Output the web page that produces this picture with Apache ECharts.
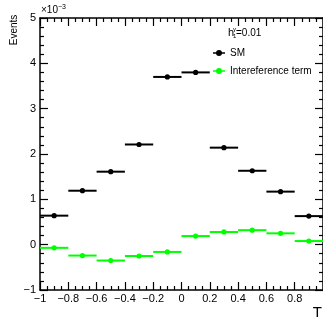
<!DOCTYPE html>
<html>
<head>
<meta charset="utf-8">
<script src="https://cdn.jsdelivr.net/npm/echarts@6/dist/echarts.min.js"></script>
<style>
  html, body { margin: 0; padding: 0; background: #fff; }
  #chart { width: 323px; height: 326px; }
</style>
</head>
<body>
<div id="chart"></div>
<script>
// bin centres on T, each bin is 0.2 wide
var binCenters = [-0.9, -0.7, -0.5, -0.3, -0.1, 0.1, 0.3, 0.5, 0.7, 0.9];
var binHalfWidth = 0.1;
// events per bin
var smValues = [0.00064, 0.00119, 0.00161, 0.00221, 0.00370, 0.00380, 0.00214, 0.00163, 0.00117, 0.00063];
var interfValues = [-0.00007, -0.00024, -0.00035, -0.00025, -0.00016, 0.00019, 0.00028, 0.00032, 0.00025, 0.00008];
var seriesNames = ['SM', 'Intereference term'];
var seriesColors = ['#000000', '#00ff00'];

var font = 'Liberation Sans, Arial, sans-serif';

function toPairs(vals) {
    return binCenters.map(function (x, i) { return [x, vals[i]]; });
}

function makeRender(color) {
    return function (params, api) {
        var x = api.value(0), y = api.value(1);
        var a = api.coord([x - binHalfWidth, y]);
        var b = api.coord([x + binHalfWidth, y]);
        var c = api.coord([x, y]);
        return {
            type: 'group',
            children: [
                { type: 'line', shape: { x1: a[0], y1: a[1], x2: b[0], y2: b[1] }, style: { stroke: color, lineWidth: 2 } },
                { type: 'circle', shape: { cx: c[0], cy: c[1], r: 2.6 }, style: { fill: color } }
            ]
        };
    };
}

function minus(v) {
    return String(v).replace('-', '\u2212');
}

var legendIcon = 'path://M0,4.5 L24,4.5 L24,7.5 L0,7.5 Z M18,6 A6,6 0 1,1 6,6 A6,6 0 1,1 18,6 Z';

var chart = echarts.init(document.getElementById('chart'));

var tickInside = {
    axisLine: { show: true, onZero: false, lineStyle: { color: '#000', width: 1.5 } },
    axisTick: { show: true, inside: true, length: 8, lineStyle: { color: '#000', width: 1.2 } },
    splitLine: { show: false }
};

var option = {
    animation: false,
    grid: { left: 40, top: 18, right: 0, bottom: 36 },
    xAxis: [
        Object.assign({
            type: 'value', min: -1, max: 1, interval: 0.2, position: 'bottom',
            minorTick: { show: true, splitNumber: 4, length: 4, lineStyle: { color: '#000', width: 1.2 } },
            axisLabel: {
                color: '#000', fontSize: 11, fontFamily: font, margin: 3,
                showMaxLabel: false,
                formatter: function (v) { return minus(Math.round(v * 10) / 10); }
            }
        }, tickInside),
        Object.assign({
            type: 'value', min: -1, max: 1, interval: 0.2, position: 'top',
            minorTick: { show: true, splitNumber: 4, length: 4, lineStyle: { color: '#000', width: 1.2 } },
            axisLabel: { show: false }
        }, tickInside)
    ],
    yAxis: [
        Object.assign({
            type: 'value', min: -0.001, max: 0.005, interval: 0.001, position: 'left',
            minorTick: { show: true, splitNumber: 5, length: 4, lineStyle: { color: '#000', width: 1.2 } },
            axisLabel: {
                color: '#000', fontSize: 11, fontFamily: font, margin: 4,
                formatter: function (v) { return minus(Math.round(v * 1000)); }
            }
        }, tickInside),
        Object.assign({
            type: 'value', min: -0.001, max: 0.005, interval: 0.001, position: 'right',
            minorTick: { show: true, splitNumber: 5, length: 4, lineStyle: { color: '#000', width: 1.2 } },
            axisLabel: { show: false }
        }, tickInside)
    ],
    legend: {
        orient: 'vertical', left: 208, top: 43, itemWidth: 12, itemHeight: 6, itemGap: 8,
        textStyle: { color: '#000', fontSize: 10, fontFamily: font },
        data: seriesNames.map(function (n) { return { name: n, icon: legendIcon }; })
    },
    series: [
        {
            name: seriesNames[0], type: 'custom', data: toPairs(smValues),
            itemStyle: { color: seriesColors[0] },
            renderItem: makeRender(seriesColors[0])
        },
        {
            name: seriesNames[1], type: 'custom', data: toPairs(interfValues),
            itemStyle: { color: seriesColors[1] },
            renderItem: makeRender(seriesColors[1])
        }
    ],
    graphic: [
        { type: 'text', x: 14, y: 30, rotation: Math.PI / 2,
          style: { text: 'Events', fontSize: 10, fontFamily: font, fill: '#000', align: 'center', verticalAlign: 'middle' } },
        { type: 'text', x: 41, y: 17,
          style: { text: '\u00d710{s|\u22123}', fontSize: 10, fontFamily: font, fill: '#000', verticalAlign: 'bottom',
                   rich: { s: { fontSize: 7, fontFamily: font, verticalAlign: 'top', padding: [0, 0, 6, 0] } } } },
        { type: 'text', x: 322, y: 320,
          style: { text: 'T', fontSize: 15, fontFamily: font, fill: '#000', align: 'right', verticalAlign: 'bottom' } },
        { type: 'text', x: 228, y: 38,
          style: { text: 'h', fontSize: 11, fontFamily: font, fill: '#000', verticalAlign: 'bottom' } },
        { type: 'text', x: 233, y: 32,
          style: { text: '\u03b3', fontSize: 6, fontFamily: font, fill: '#000', verticalAlign: 'bottom' } },
        { type: 'text', x: 233, y: 39,
          style: { text: '1', fontSize: 6, fontFamily: font, fill: '#000', verticalAlign: 'bottom' } },
        { type: 'text', x: 236, y: 38,
          style: { text: '=0.01', fontSize: 10, fontFamily: font, fill: '#000', verticalAlign: 'bottom' } }
    ]
};

chart.setOption(option);
</script>
</body>
</html>
